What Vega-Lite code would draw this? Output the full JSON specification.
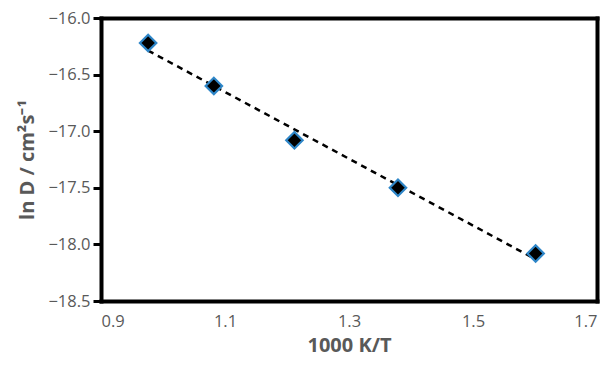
{
  "$schema": "https://vega.github.io/schema/vega-lite/v6.json",
  "autosize": "none",
  "width": 496,
  "height": 283,
  "padding": {"left": 101, "top": 18, "right": 12, "bottom": 67},
  "background": "white",
  "view": {"stroke": null},
  "config": {
    "axis": {"grid": false, "domain": true, "domainColor": "#000000", "domainWidth": 4, "domainCap": "square", "labelFont": "Open Sans", "titleFont": "Open Sans", "labelColor": "#595959", "titleColor": "#595959", "labelFontSize": 16.5, "titleFontSize": 20, "titleFontWeight": "bold"}
  },
  "data": {"values": [
    {"x": 0.976, "y": -16.22},
    {"x": 1.082, "y": -16.60},
    {"x": 1.212, "y": -17.08},
    {"x": 1.379, "y": -17.50},
    {"x": 1.601, "y": -18.08}
  ]},
  "resolve": {"axis": {"x": "independent", "y": "independent"}},
  "layer": [
    {
      "transform": [{"regression": "y", "on": "x"}],
      "mark": {"type": "line", "color": "black", "strokeWidth": 2.5, "strokeDash": [6, 5]},
      "encoding": {
        "x": {"field": "x", "type": "quantitative",
          "scale": {"domain": [0.9, 1.7], "nice": false, "zero": false},
          "axis": {"orient": "top", "title": null, "labels": false, "ticks": false}},
        "y": {"field": "y", "type": "quantitative",
          "scale": {"domain": [-18.5, -16.0], "nice": false, "zero": false},
          "axis": {"orient": "right", "title": null, "labels": false, "ticks": false}}
      }
    },
    {
      "mark": {"type": "point", "shape": "diamond", "filled": true, "fill": "black", "stroke": "#2E86C8", "strokeWidth": 2.2, "opacity": 1, "size": 270},
      "encoding": {
        "x": {"field": "x", "type": "quantitative",
          "scale": {"domain": [0.9, 1.7], "nice": false, "zero": false},
          "axis": {"orient": "bottom", "title": "1000 K/T", "values": [0.9, 1.1, 1.3, 1.5, 1.7], "format": ".1f", "ticks": false, "labelPadding": 12, "titlePadding": 6}},
        "y": {"field": "y", "type": "quantitative",
          "scale": {"domain": [-18.5, -16.0], "nice": false, "zero": false},
          "axis": {"orient": "left", "title": "ln D / cm²s⁻¹", "values": [-18.5, -18.0, -17.5, -17.0, -16.5, -16.0], "format": ".1f", "ticks": true, "tickSize": 8, "tickColor": "#000000", "tickWidth": 3, "labelPadding": 3, "titlePadding": 10}}
      }
    }
  ]
}
